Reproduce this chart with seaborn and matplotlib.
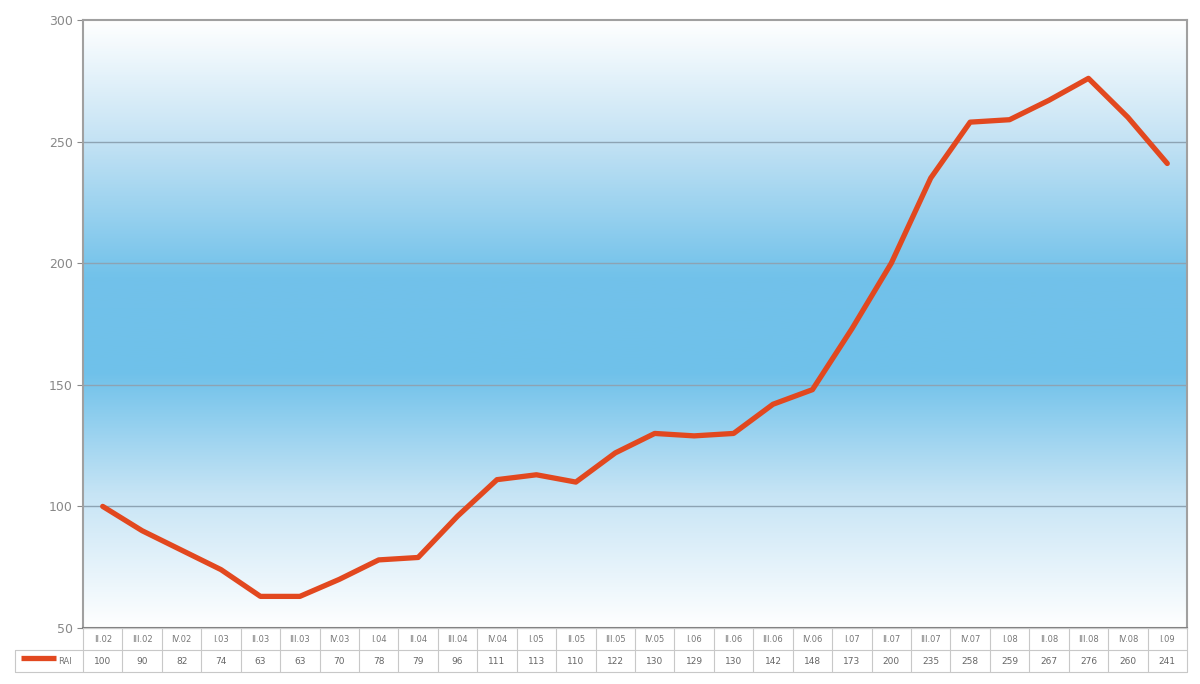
import numpy as np
import pandas as pd
import matplotlib
matplotlib.use("Agg")
import matplotlib.pyplot as plt
import seaborn as sns
from matplotlib.colors import LinearSegmentedColormap

# Data
quarters = ["II.02", "III.02", "IV.02", "I.03", "II.03", "III.03", "IV.03",
            "I.04", "II.04", "III.04", "IV.04", "I.05", "II.05", "III.05",
            "IV.05", "I.06", "II.06", "III.06", "IV.06", "I.07", "II.07",
            "III.07", "IV.07", "I.08", "II.08", "III.08", "IV.08", "I.09"]
rai = [100, 90, 82, 74, 63, 63, 70, 78, 79, 96, 111, 113, 110, 122,
       130, 129, 130, 142, 148, 173, 200, 235, 258, 259, 267, 276, 260, 241]
series_name = "RAI"
y_ticks = [50, 100, 150, 200, 250, 300]

df = pd.DataFrame({"quarter": quarters, "value": rai})
df["pos"] = np.arange(len(df))

sns.set_style("white")
fig = plt.figure(figsize=(12, 6.84), dpi=100)
ax = fig.add_axes([83 / 1200, 56 / 684, 1104 / 1200, 608 / 684])
n = len(quarters)

# vertical white-blue-white gradient background
grad_cmap = LinearSegmentedColormap.from_list(
    "bg", [(0.0, "#ffffff"), (0.22, "#c6e4f5"), (0.42, "#6fc1ea"),
           (0.58, "#72c2ea"), (0.8, "#c3e2f4"), (1.0, "#ffffff")])
grad = np.linspace(1, 0, 256).reshape(-1, 1)
ax.imshow(grad, cmap=grad_cmap, aspect="auto",
          extent=[-0.5, n - 0.5, 50, 300], zorder=0)

sns.lineplot(data=df, x="pos", y="value", ax=ax, color="#e2481f",
             linewidth=3.8, zorder=3, legend=False)

ax.set_xlim(-0.5, n - 0.5)
ax.set_ylim(50, 300)
ax.set_yticks(y_ticks)
ax.set_xticks([])
ax.set_xlabel("")
ax.set_ylabel("")
for y in y_ticks[1:-1]:
    ax.axhline(y, color="#8da3b3", linewidth=1.0, zorder=1)
ax.tick_params(axis="y", colors="#888888", labelsize=9, length=4,
               direction="out", left=True)
for side in ["left", "top", "right"]:
    ax.spines[side].set_color("#a0a0a0")
    ax.spines[side].set_linewidth(1.5)
ax.spines["bottom"].set_color("#808080")
ax.spines["bottom"].set_linewidth(1.5)

# data table below the plot
tax = fig.add_axes([83 / 1200, 12 / 684, 1104 / 1200, 44 / 684])
tax.set_xlim(-0.5, n - 0.5)
tax.set_ylim(0, 2)
tax.axis("off")
grid_c = "#c8c8c8"
left_edge = -0.5 - 68 / (1104 / n)
for i in range(n + 1):
    tax.plot([i - 0.5, i - 0.5], [0, 2], color=grid_c, lw=0.8, clip_on=False)
tax.plot([-0.5, n - 0.5], [2, 2], color=grid_c, lw=0.8, clip_on=False)
tax.plot([left_edge, n - 0.5], [1, 1], color=grid_c, lw=0.8, clip_on=False)
tax.plot([left_edge, n - 0.5], [0, 0], color=grid_c, lw=0.8, clip_on=False)
tax.plot([left_edge, left_edge], [0, 1], color=grid_c, lw=0.8, clip_on=False)
for i, (q, v) in enumerate(zip(quarters, rai)):
    tax.text(i, 1.5, q, ha="center", va="center", fontsize=6, color="#777777")
    tax.text(i, 0.5, str(v), ha="center", va="center", fontsize=6.5,
             color="#666666")
# legend key in the table's row header
tax.plot([left_edge + 0.15, left_edge + 1.05], [0.62, 0.62],
         color="#e2481f", lw=3.8, clip_on=False, solid_capstyle="butt")
tax.text(left_edge + 1.1, 0.5, series_name, ha="left", va="center",
         fontsize=6, color="#777777")

fig.savefig("out.png", dpi=100, facecolor="white")
